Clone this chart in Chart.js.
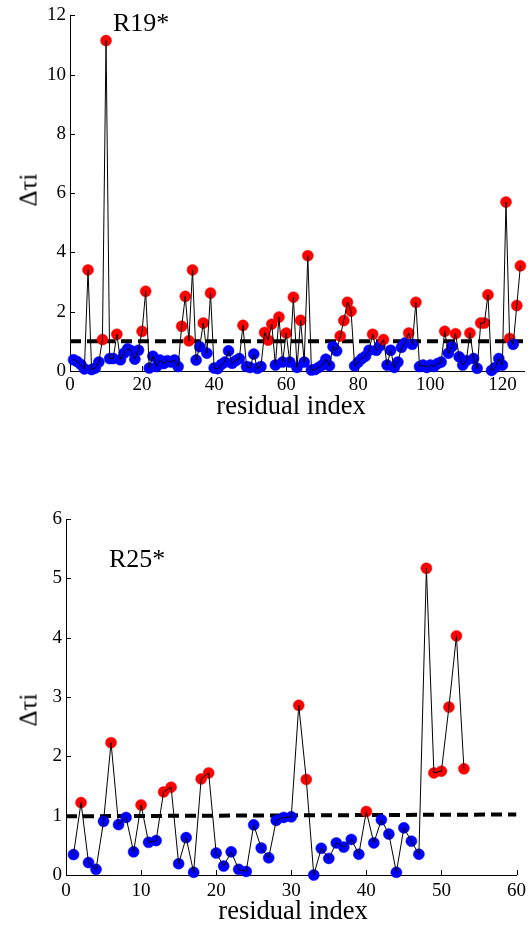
<!DOCTYPE html>
<html>
<head>
<meta charset="utf-8">
<script src="https://cdn.jsdelivr.net/npm/chart.js@4.4.0/dist/chart.umd.min.js"></script>
<style>
  body { margin: 0; background: #fff; width: 531px; height: 925px; position: relative; overflow: hidden; font-family: "Liberation Serif", "Times New Roman", serif; }
  .box { position: absolute; left: 0; }
  .lbl { position: absolute; color: #000; white-space: nowrap; line-height: 1; }
  .ytitle { transform: translate(-50%, -50%) rotate(-90deg); }
</style>
</head>
<body>
<div class="box" style="top:0"><canvas id="topChart" width="531" height="400"></canvas></div>
<div class="box" style="top:500px"><canvas id="bottomChart" width="531" height="425"></canvas></div>

<div class="lbl" style="left:113px;top:10px;font-size:26px">R19*</div>
<div class="lbl" style="left:291px;top:392px;font-size:26.5px;transform:translateX(-50%)">residual index</div>
<div class="lbl ytitle" style="left:28px;top:190px;font-size:25px">Δτi</div>

<div class="lbl" style="left:109px;top:546px;font-size:26px">R25*</div>
<div class="lbl" style="left:293px;top:897px;font-size:26.5px;transform:translateX(-50%)">residual index</div>
<div class="lbl ytitle" style="left:28px;top:710px;font-size:25px">Δτi</div>

<script>
// R19* - one value per residual, index starts at 1
var topValues = [
    0.38, 0.32, 0.22, 0.07, 3.41, 0.05, 0.10, 0.30, 1.06, 11.15,
    0.42, 0.42, 1.24, 0.38, 0.60, 0.75, 0.68, 0.40, 0.70, 1.34,
    2.69, 0.10, 0.50, 0.15, 0.37, 0.25, 0.35, 0.30, 0.37, 0.15,
    1.51, 2.52, 1.02, 3.41, 0.37, 0.82, 1.62, 0.60, 2.63, 0.10,
    0.08, 0.22, 0.30, 0.68, 0.26, 0.35, 0.42, 1.54, 0.15, 0.12,
    0.57, 0.09, 0.15, 1.30, 1.04, 1.58, 0.20, 1.82, 0.30, 1.28,
    0.30, 2.49, 0.12, 1.71, 0.30, 3.89, 0.03, 0.05, 0.12, 0.20,
    0.40, 0.18, 0.82, 0.68, 1.18, 1.70, 2.32, 2.02, 0.17, 0.30,
    0.42, 0.50, 0.70, 1.24, 0.70, 0.85, 1.06, 0.20, 0.70, 0.12,
    0.30, 0.80, 0.95, 1.28, 0.90, 2.32, 0.15, 0.20, 0.12, 0.20,
    0.15, 0.25, 0.30, 1.34, 0.60, 0.82, 1.26, 0.48, 0.20, 0.35,
    1.28, 0.42, 0.09, 1.62, 1.62, 2.57, 0.02, 0.12, 0.42, 0.20,
    5.70, 1.10, 0.90, 2.21, 3.55
];
var topThrX = [0, 126];
var topThrY = [1.0, 1.0];
var topXTicks = [0, 20, 40, 60, 80, 100, 120];
var topYTicks = [0, 2, 4, 6, 8, 10, 12];

// R25*
var bottomValues = [
    0.345, 1.22, 0.21, 0.095, 0.905, 2.23, 0.85, 0.97, 0.39, 1.18,
    0.55, 0.58, 1.40, 1.48, 0.19, 0.63, 0.045, 1.62, 1.72, 0.37,
    0.15, 0.39, 0.095, 0.06, 0.845, 0.455, 0.29, 0.92, 0.97, 0.98,
    2.86, 1.61, 0.0, 0.45, 0.28, 0.54, 0.47, 0.60, 0.35, 1.07,
    0.54, 0.93, 0.69, 0.045, 0.795, 0.57, 0.35, 5.17, 1.72, 1.75,
    2.83, 4.03, 1.79
];
var bottomThrX = [0, 60];
var bottomThrY = [0.99, 1.02];
var bottomXTicks = [0, 10, 20, 30, 40, 50, 60];
var bottomYTicks = [0, 1, 2, 3, 4, 5, 6];

var RED = '#ff0000';
var BLUE = '#0000ff';
var FONT = { family: 'Liberation Serif', size: 19 };

// MATLAB style ticks pointing into the plot
var inwardTicks = {
    id: 'inwardTicks',
    beforeDatasetsDraw: function (chart) {
        var ctx = chart.ctx, area = chart.chartArea, sx = chart.scales.x, sy = chart.scales.y;
        ctx.save();
        ctx.strokeStyle = '#000';
        ctx.lineWidth = 1;
        ctx.beginPath();
        sx.ticks.forEach(function (t) {
            var px = Math.round(sx.getPixelForValue(t.value)) + 0.5;
            ctx.moveTo(px, area.bottom);
            ctx.lineTo(px, area.bottom - 5);
        });
        sy.ticks.forEach(function (t) {
            var py = Math.round(sy.getPixelForValue(t.value)) + 0.5;
            ctx.moveTo(area.left, py);
            ctx.lineTo(area.left + 5, py);
        });
        ctx.stroke();
        ctx.restore();
    }
};

function makeChart(id, values, thrX, thrY, xMax, yMax, xTicks, yTicks, box)
{
    var pts = values.map(function (v, i) { return { x: i + 1, y: v }; });
    var thrAt = function (x) {
        return thrY[0] + (thrY[1] - thrY[0]) * (x - thrX[0]) / (thrX[1] - thrX[0]);
    };
    var colors = pts.map(function (p) { return p.y > thrAt(p.x) ? RED : BLUE; });

    return new Chart(document.getElementById(id), {
        type: 'scatter',
        data: {
            datasets: [
                {
                    // threshold
                    type: 'line',
                    data: thrX.map(function (x, i) { return { x: x, y: thrY[i] }; }),
                    borderColor: '#000',
                    borderWidth: 4,
                    borderDash: [11, 6],
                    pointRadius: 0,
                    order: 3
                },
                {
                    data: pts,
                    pointBackgroundColor: colors,
                    pointBorderColor: colors,
                    pointBorderWidth: 0.5,
                    pointRadius: 5.5,
                    clip: false,
                    order: 2
                },
                {
                    type: 'line',
                    data: pts,
                    borderColor: '#000',
                    borderWidth: 1,
                    pointRadius: 0,
                    tension: 0,
                    clip: false,
                    order: 1
                }
            ]
        },
        options: {
            responsive: false,
            animation: false,
            events: [],
            layout: { autoPadding: false, padding: { top: box.top, right: box.right, left: 0, bottom: 0 } },
            plugins: { legend: { display: false }, tooltip: { enabled: false } },
            scales: {
                x: {
                    type: 'linear',
                    min: 0,
                    max: xMax,
                    afterBuildTicks: function (s) { s.ticks = xTicks.map(function (v) { return { value: v }; }); },
                    afterFit: function (s) { s.height = box.xh; },
                    grid: { drawOnChartArea: false, drawTicks: false },
                    border: { display: true, color: '#000', width: 1 },
                    ticks: { color: '#000', font: FONT, padding: box.xpad, maxRotation: 0, autoSkip: false }
                },
                y: {
                    type: 'linear',
                    min: 0,
                    max: yMax,
                    afterBuildTicks: function (s) { s.ticks = yTicks.map(function (v) { return { value: v }; }); },
                    afterFit: function (s) { s.width = box.yw; },
                    grid: { drawOnChartArea: false, drawTicks: false },
                    border: { display: true, color: '#000', width: 1 },
                    ticks: { color: '#000', font: FONT, padding: 4, autoSkip: false }
                }
            }
        },
        plugins: [inwardTicks]
    });
}

makeChart('topChart', topValues, topThrX, topThrY, 126, 12, topXTicks, topYTicks,
    { top: 13, right: 7, yw: 70, xh: 29, xpad: 3 });
makeChart('bottomChart', bottomValues, bottomThrX, bottomThrY, 60, 6, bottomXTicks, bottomYTicks,
    { top: 19, right: 11, yw: 66, xh: 50, xpad: 5 });
</script>
</body>
</html>
